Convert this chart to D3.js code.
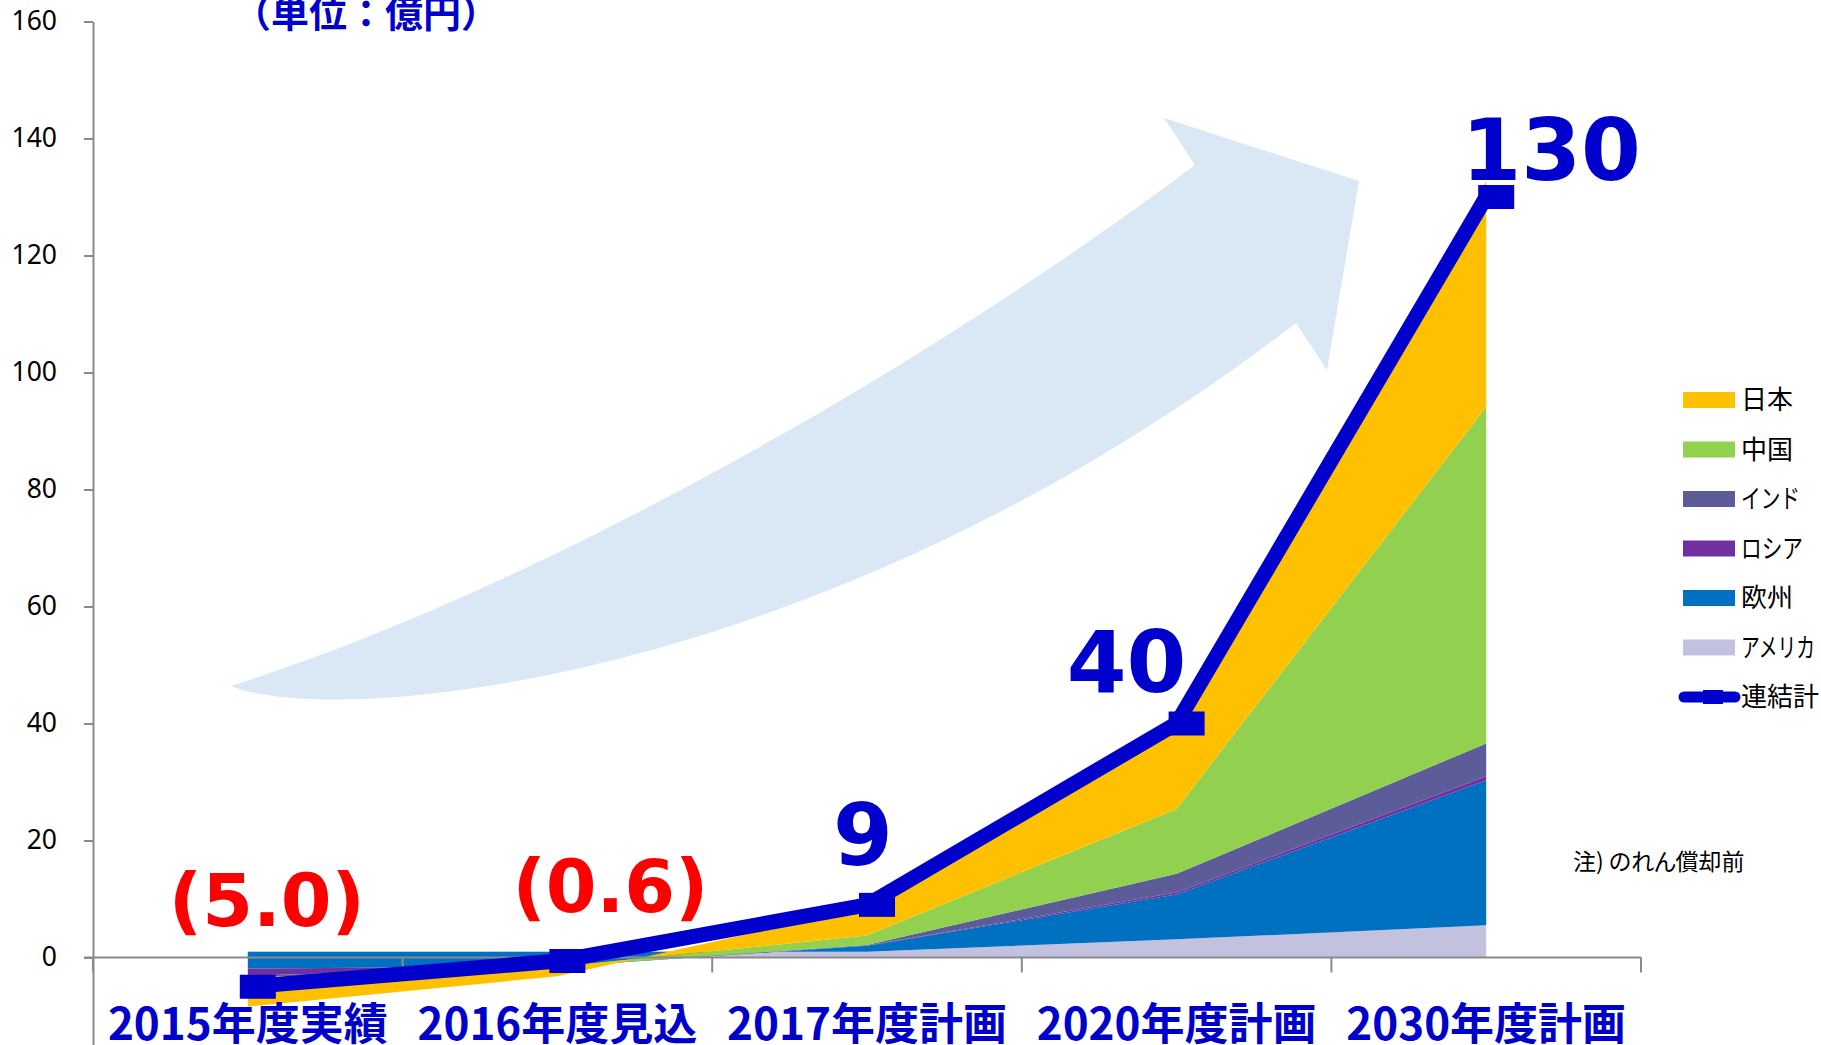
<!DOCTYPE html>
<html><head><meta charset="utf-8">
<script src="https://cdn.jsdelivr.net/npm/d3@7"></script>
<style>
html,body{margin:0;padding:0;background:#fff;overflow:hidden}
svg{display:block}
</style></head><body>
<svg id="c" width="1821" height="1045"></svg>
<script>
// ---------- data ----------
const categories = ["2015年度実績","2016年度見込","2017年度計画","2020年度計画","2030年度計画"];
const seriesKeys = ["アメリカ","欧州","ロシア","インド","中国","日本"];
const america = [1.0, 1.0, 1.0, 3.1, 5.5];
const europe  = [-2.9, -2.5, 1.0, 7.65, 24.8];
const russia  = [-1.2, -0.1, 0.05, 0.35, 0.7];
const india   = [-0.3, 0, 0.1, 3.2, 5.6];
const china   = [0, 0, 1.6, 11.1, 57.5];
const japan   = [-5.0, -1.6, 4.75, 14.6, 38.6];
const consolidated = [-5.0, -0.6, 9, 40, 130];
const valueLabels = ["(5.0)","(0.6)","9","40","130"];
const yTicks = [0,20,40,60,80,100,120,140,160];
const legendNames = ["日本","中国","インド","ロシア","欧州","アメリカ","連結計"];
const unitLabel = "（単位：億円）";
const noteLabel = "注) のれん償却前";

// ---------- styles / layout ----------
const colors = {"アメリカ":"#C2C2E0","欧州":"#0070C0","ロシア":"#7030A0","インド":"#5C5C98","中国":"#92D050","日本":"#FFC000","連結計":"#0000CC"};
const labelColors = ["#FF0000","#FF0000","#0000CC","#0000CC","#0000CC"];
const labelSizes = [73,73,86,86,86];
const labelOffsets = [[19,-61],[53,-49],[-4,-40],[-50,-32],[65,-17]];
const legendTextLength = {"インド":59,"ロシア":62,"アメリカ":74};
const JP = '"Noto Sans CJK JP","Noto Sans",sans-serif';

const svg = d3.select("#c");
const x = d3.scalePoint().domain(categories).range([93,1641]).padding(0.5);
const xBand = d3.scaleBand().domain(categories).range([93,1641]);
const y = d3.scaleLinear().domain([-20,160]).range([1074.5,21.5]);

// ---------- decorative arrow ----------
const arrowD = "M231,686 C330,728 820,690 1296,323 L1327,370 L1359,181 L1164,118 L1195,165 C915,375 531,591 231,686 Z";
svg.append("path").attr("d", arrowD).attr("fill","#DAE8F5");

// ---------- stacked areas ----------
const table = categories.map((c,i)=>({cat:c,"アメリカ":america[i],"欧州":europe[i],"ロシア":russia[i],"インド":india[i],"中国":china[i],"日本":japan[i]}));
const stacked = d3.stack().keys(seriesKeys).order(d3.stackOrderNone).offset(d3.stackOffsetNone)(table);
const area = d3.area().x(d=>x(d.data.cat)).y0(d=>y(d[0])).y1(d=>y(d[1]));
svg.append("g").selectAll("path").data(stacked).join("path")
  .attr("d", area).attr("fill", d=>colors[d.key]);

// ---------- axes ----------
const yAxis = svg.append("g").attr("transform","translate(93,0)")
  .call(d3.axisLeft(y).tickValues(yTicks).tickSize(9).tickSizeOuter(0).tickPadding(27));
yAxis.select(".domain").attr("stroke","#8A8A8A").attr("stroke-width",2);
yAxis.selectAll(".tick line").attr("stroke","#8A8A8A").attr("stroke-width",2);
yAxis.selectAll(".tick text").attr("fill","#000").style("font-family",'"Noto Sans",sans-serif').style("font-size","26.5px");

const xAxis = svg.append("g");
xAxis.append("line").attr("x1",84).attr("x2",xBand.range()[1]).attr("y1",y(0)).attr("y2",y(0))
  .attr("stroke","#8A8A8A").attr("stroke-width",2);
const tickXs = categories.map(c=>xBand(c)).concat([xBand.range()[1]]);
xAxis.selectAll("line.t").data(tickXs).join("line").attr("class","t")
  .attr("x1",d=>d).attr("x2",d=>d).attr("y1",y(0)).attr("y2",y(0)+15)
  .attr("stroke","#8A8A8A").attr("stroke-width",2);
svg.append("g").selectAll("text").data(categories).join("text")
  .attr("x",d=>x(d)).attr("y",1040).attr("text-anchor","middle")
  .attr("fill","#0000CC").style("font-family",JP).style("font-weight","700").style("font-size","44px")
  .text(d=>d);

// ---------- consolidated line ----------
const line = d3.line().x((d,i)=>x(categories[i])).y(d=>y(d));
svg.append("path").datum(consolidated).attr("d",line).attr("fill","none")
  .attr("stroke",colors["連結計"]).attr("stroke-width",15).attr("stroke-linejoin","round");
svg.append("g").selectAll("rect").data(consolidated).join("rect")
  .attr("x",(d,i)=>x(categories[i])-8).attr("y",d=>y(d)-12).attr("width",36).attr("height",24)
  .attr("fill",colors["連結計"]);

// ---------- value labels ----------
svg.append("g").selectAll("text").data(consolidated).join("text")
  .attr("x",(d,i)=>x(categories[i])+labelOffsets[i][0])
  .attr("y",(d,i)=>y(d)+labelOffsets[i][1])
  .attr("text-anchor","middle").attr("fill",(d,i)=>labelColors[i])
  .style("font-family",'"DejaVu Sans",Verdana,sans-serif').style("font-weight","700")
  .style("font-size",(d,i)=>labelSizes[i]+"px")
  .text((d,i)=>valueLabels[i]);

// ---------- unit title ----------
svg.append("text").attr("x",366).attr("y",27).attr("text-anchor","middle")
  .attr("fill","#0000CC").style("font-family",JP).style("font-weight","700").style("font-size","38px")
  .text(unitLabel);

// ---------- legend ----------
const lg = svg.append("g");
legendNames.forEach((name,i)=>{
  const cy = 400 + i*49.5;
  if (name === "連結計") {
    lg.append("line").attr("x1",1684).attr("x2",1735).attr("y1",cy).attr("y2",cy)
      .attr("stroke",colors[name]).attr("stroke-width",11).attr("stroke-linecap","round");
    lg.append("rect").attr("x",1703).attr("y",cy-7).attr("width",20).attr("height",14).attr("fill",colors[name]);
  } else {
    lg.append("rect").attr("x",1683).attr("y",cy-8).attr("width",52).attr("height",16).attr("fill",colors[name]);
  }
  const t = lg.append("text").attr("x",1741).attr("y",cy+9).attr("fill","#000")
    .style("font-family",JP).style("font-size","26px")
    .text(name);
  if (legendTextLength[name]) t.attr("textLength",legendTextLength[name]).attr("lengthAdjust","spacingAndGlyphs");
});

// ---------- note ----------
svg.append("text").attr("x",1573).attr("y",870).attr("fill","#000")
  .style("font-family",JP).style("font-size","23px").style("font-feature-settings",'"palt"')
  .text(noteLabel);
</script>
</body></html>
